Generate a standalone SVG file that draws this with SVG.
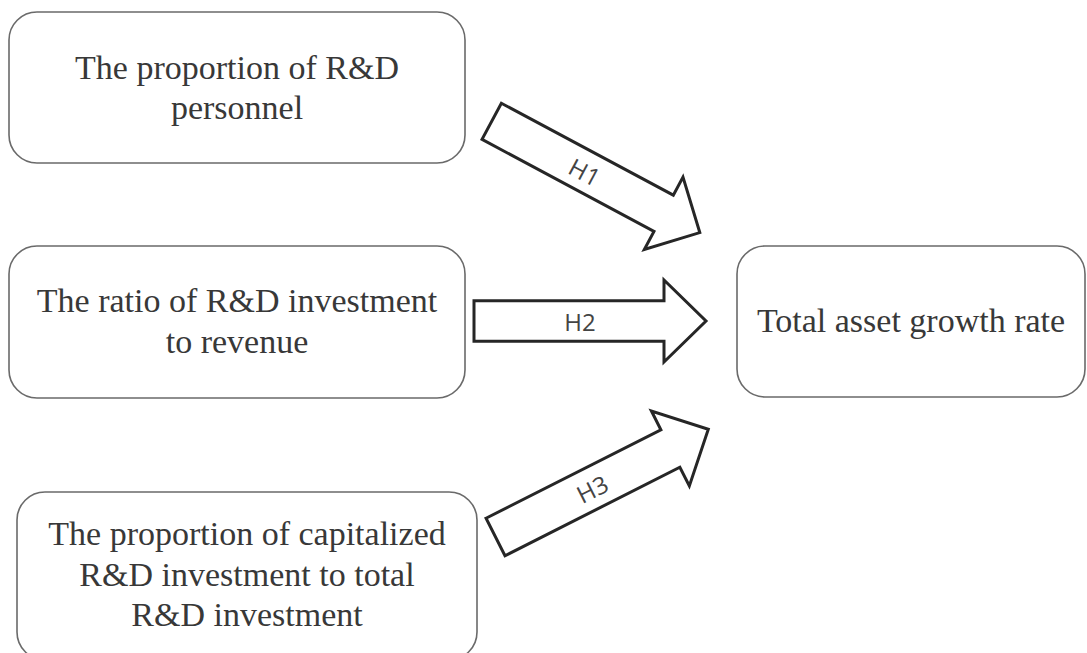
<svg xmlns="http://www.w3.org/2000/svg" width="1087" height="653" viewBox="0 0 1087 653">
<style>
.box{fill:#fff;stroke:#6a6a6a;stroke-width:1.6}
.t{font-family:"Liberation Serif","Times New Roman",serif;font-size:34px;fill:#383838;text-anchor:middle}
.arr{fill:#fff;stroke:#262626;stroke-width:3;stroke-linejoin:miter}
.h{font-family:"Open Sans","Liberation Sans",sans-serif;font-size:24px;fill:#444;text-anchor:middle}
</style>
<rect width="1087" height="653" fill="#fff"/>
<g id="node1">
<rect class="box" x="9" y="12" width="456" height="151" rx="28"/>
<text class="t" x="237" y="79">The proportion of R&amp;D</text>
<text class="t" x="237" y="119">personnel</text>
</g>
<g id="node2">
<rect class="box" x="9" y="246" width="456" height="152" rx="28"/>
<text class="t" x="237" y="312">The ratio of R&amp;D investment</text>
<text class="t" x="237" y="353">to revenue</text>
</g>
<g id="node3">
<rect class="box" x="17" y="492" width="460" height="168" rx="28"/>
<text class="t" x="247" y="545">The proportion of capitalized</text>
<text class="t" x="247" y="586">R&amp;D investment to total</text>
<text class="t" x="247" y="626">R&amp;D investment</text>
</g>
<g id="node4">
<rect class="box" x="737" y="246" width="348" height="151" rx="28"/>
<text class="t" x="911" y="332">Total asset growth rate</text>
</g>
<g id="connectors">
<g transform="translate(491.7,121.3) rotate(28.14)">
<path class="arr" d="M0,-20.5 L195,-20.5 L195,-41 L236,0 L195,41 L195,20.5 L0,20.5 Z"/>
<text class="h" x="106" y="10">H1</text>
</g>
<g transform="translate(474,321)">
<path class="arr" d="M0,-20.2 L190,-20.2 L190,-41 L232,0 L190,41 L190,20.2 L0,20.2 Z"/>
<text class="h" x="106" y="10">H2</text>
</g>
<g transform="translate(495.5,537) rotate(-26.84)">
<path class="arr" d="M0,-21 L196,-21 L196,-42 L238.5,0 L196,42 L196,21 L0,21 Z"/>
<text class="h" x="108" y="10">H3</text>
</g>
</g>
</svg>
